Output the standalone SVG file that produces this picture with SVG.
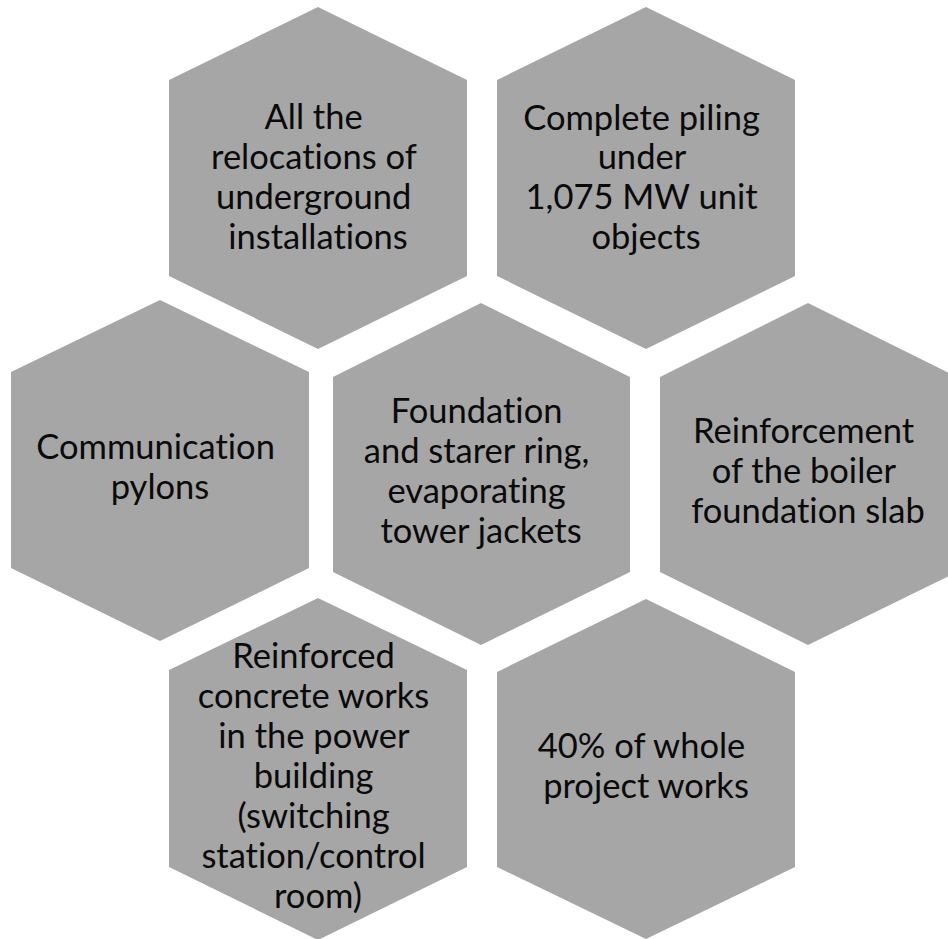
<svg xmlns="http://www.w3.org/2000/svg" width="948" height="939" viewBox="0 0 948 939">
  <style>
    .hex { fill: #a6a6a6; }
    .lbl { font-family: "Lato", "Open Sans", "Liberation Sans", sans-serif; font-size: 34.5px; fill: #0a0a0a; text-anchor: middle; font-variant-ligatures: none; font-feature-settings: "liga" 0, "clig" 0, "dlig" 0, "calt" 0; }
  </style>
  <rect width="948" height="939" fill="#ffffff"/>

  <!-- top row -->
  <g id="node-relocations">
    <polygon class="hex" points="318,7 467,80 467,276 318,349 169,276 169,80"/>
    <text class="lbl">
      <tspan x="318" y="129">All the</tspan>
      <tspan x="318" y="169">relocations of</tspan>
      <tspan x="318" y="209">underground</tspan>
      <tspan x="318" y="249">installations</tspan>
    </text>
  </g>
  <g id="node-piling">
    <polygon class="hex" points="646,7 795,80 795,276 646,349 497,276 497,80"/>
    <text class="lbl">
      <tspan x="646" y="130">Complete piling</tspan>
      <tspan x="646" y="169">under</tspan>
      <tspan x="646" y="209">1,075 MW unit</tspan>
      <tspan x="646" y="249">objects</tspan>
    </text>
  </g>

  <!-- middle row -->
  <g id="node-pylons">
    <polygon class="hex" points="160,300 309,372 309,568 160,641 11,568 11,372"/>
    <text class="lbl">
      <tspan x="160" y="459">Communication</tspan>
      <tspan x="160" y="499">pylons</tspan>
    </text>
  </g>
  <g id="node-foundation">
    <polygon class="hex" points="481,303 630,377 630,572 481,645 333,572 333,377"/>
    <text class="lbl">
      <tspan x="481" y="423">Foundation</tspan>
      <tspan x="481" y="463">and starer ring,</tspan>
      <tspan x="481" y="503">evaporating</tspan>
      <tspan x="481" y="543">tower jackets</tspan>
    </text>
  </g>
  <g id="node-boiler">
    <polygon class="hex" points="808,303 957,377 957,572 808,645 660,572 660,377"/>
    <text class="lbl">
      <tspan x="808" y="443">Reinforcement</tspan>
      <tspan x="808" y="483">of the boiler</tspan>
      <tspan x="808" y="523">foundation slab</tspan>
    </text>
  </g>

  <!-- bottom row -->
  <g id="node-power-building">
    <polygon class="hex" points="318,598 467,670 467,867 318,940 169,867 169,670"/>
    <text class="lbl">
      <tspan x="318" y="668">Reinforced</tspan>
      <tspan x="318" y="708">concrete works</tspan>
      <tspan x="318" y="748">in the power</tspan>
      <tspan x="318" y="788">building</tspan>
      <tspan x="318" y="828">(switching</tspan>
      <tspan x="318" y="868">station/control</tspan>
      <tspan x="318" y="908">room)</tspan>
    </text>
  </g>
  <g id="node-project-share">
    <polygon class="hex" points="646,599 795,672 795,867 646,939 497,867 497,672"/>
    <text class="lbl">
      <tspan x="646" y="758">40% of whole</tspan>
      <tspan x="646" y="798">project works</tspan>
    </text>
  </g>
</svg>
